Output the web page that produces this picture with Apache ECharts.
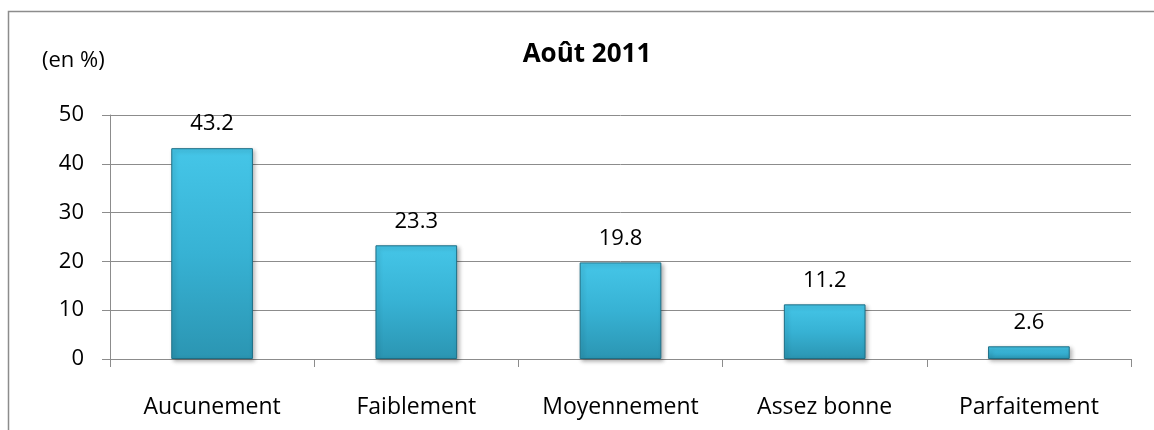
<!DOCTYPE html>
<html><head><meta charset="utf-8">
<script src="https://cdn.jsdelivr.net/npm/echarts@6/dist/echarts.min.js"></script>
<style>html,body{margin:0;padding:0;background:#fff}#c{width:1154px;height:430px}</style>
</head><body><div id="c"></div>
<script>
const categories = ["Aucunement", "Faiblement", "Moyennement", "Assez bonne", "Parfaitement"];
const values = [43.2, 23.3, 19.8, 11.2, 2.6];
const yTicks = [0, 10, 20, 30, 40, 50];
const titleText = "Août 2011";
const unitText = "(en %)";

const FONT = "'Open Sans', sans-serif";
const chart = echarts.init(document.getElementById('c'), null, {renderer: 'canvas'});
chart.setOption({
  animation: false,
  backgroundColor: '#fff',
  title: {text: titleText, left: 582, top: 37, textAlign: 'center',
    textStyle: {fontFamily: FONT, fontWeight: 'bold', fontSize: 26, color: '#000'}},
  graphic: [
    {type: 'rect', shape: {x: 8.5, y: 11.5, width: 1200, height: 500}, style: {fill: null, stroke: '#8c8c8c', lineWidth: 1.5}, z: -1},
    {type: 'text', left: 42, top: 50, style: {text: unitText, font: '22px ' + FONT, fill: '#000'}}
  ],
  grid: {left: 110, right: 23, top: 115, bottom: 71, containLabel: false},
  xAxis: {type: 'category', data: categories,
    axisLine: {lineStyle: {color: '#8c8c8c', width: 1}},
    axisTick: {show: true, length: 8, lineStyle: {color: '#8c8c8c'}},
    axisLabel: {fontFamily: FONT, fontSize: 23, color: '#000', margin: 37}},
  yAxis: {type: 'value', min: yTicks[0], max: yTicks[yTicks.length-1], interval: 10,
    axisLine: {show: true, lineStyle: {color: '#8c8c8c'}},
    axisTick: {show: true, length: 8, lineStyle: {color: '#8c8c8c'}},
    splitLine: {lineStyle: {color: '#8c8c8c', width: 1}},
    axisLabel: {fontFamily: FONT, fontSize: 22, color: '#000', margin: 26}},
  series: [{type: 'bar', data: values, barWidth: '40%',
    itemStyle: {
      color: new echarts.graphic.LinearGradient(0, 0, 0, 1, [
        {offset: 0, color: '#45c6e8'}, {offset: 0.5, color: '#37b2d4'}, {offset: 1, color: '#2b95b2'}]),
      borderColor: '#1e6f86', borderWidth: 1,
      shadowColor: 'rgba(0,0,0,0.3)', shadowBlur: 4, shadowOffsetX: 2, shadowOffsetY: 2},
    label: {show: true, position: 'top', distance: 13, fontFamily: FONT, fontSize: 22, color: '#000'}}]
});
</script></body></html>
